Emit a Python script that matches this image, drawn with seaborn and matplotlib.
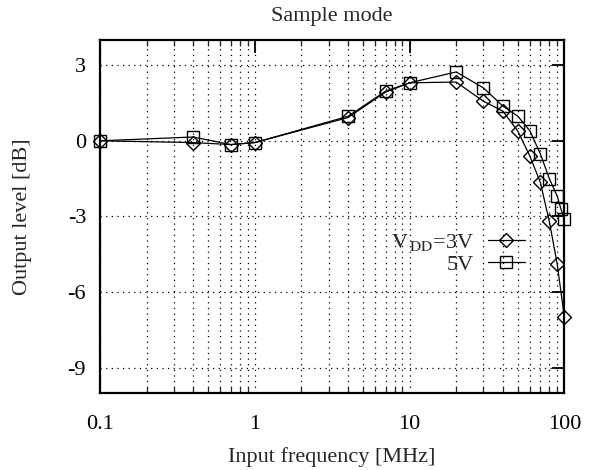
import numpy as np
import pandas as pd
import seaborn as sns
import matplotlib
matplotlib.use('Agg')
import matplotlib.pyplot as plt
from matplotlib import ticker

# values
freq_3v = [0.1, 0.4, 0.7, 1, 4, 7, 10, 20, 30, 40, 50, 60, 70, 80, 90, 100]
gain_3v = [0, -0.07, -0.15, -0.07, 0.92, 1.93, 2.3, 2.33, 1.57, 1.18, 0.39, -0.62, -1.65, -3.2, -4.9, -7.0]
freq_5v = [0.1, 0.4, 0.7, 1, 4, 7, 10, 20, 30, 40, 50, 60, 70, 80, 90, 95, 100]
gain_5v = [0, 0.15, -0.15, -0.07, 0.97, 1.97, 2.3, 2.73, 2.1, 1.38, 0.98, 0.39, -0.52, -1.5, -2.2, -2.7, -3.1]

x_ticks = [0.1, 1, 10, 100]
x_ticklabels = ['0.1', '1', '10', '100']
y_ticks = [3, 0, -3, -6, -9]

sns.set_style('white')
plt.rcParams['font.family'] = ['Liberation Serif', 'DejaVu Serif']
plt.rcParams['mathtext.fontset'] = 'stix'
plt.rcParams['axes.unicode_minus'] = False

fig = plt.figure(figsize=(5.9, 4.7), dpi=100)
ax = fig.add_axes([0.1695, 0.164, 0.787, 0.751])

df3 = pd.DataFrame({'freq': freq_3v, 'gain': gain_3v})
df5 = pd.DataFrame({'freq': freq_5v, 'gain': gain_5v})

sns.lineplot(data=df3, x='freq', y='gain', ax=ax, color='black', lw=0.9,
             marker='D', markersize=7.5, markerfacecolor='none',
             markeredgecolor='black', markeredgewidth=1.0, clip_on=False,
             label=r'$\mathrm{V}_{\,\mathrm{DD}}$=3V')
sns.lineplot(data=df5, x='freq', y='gain', ax=ax, color='black', lw=0.9,
             marker='s', markersize=8.5, markerfacecolor='none',
             markeredgecolor='black', markeredgewidth=1.0, clip_on=False,
             label='5V')

ax.set_xscale('log')
ax.set_xlim(0.1, 100)
ax.set_ylim(-10, 4)
ax.set_xticks(x_ticks)
ax.xaxis.set_major_formatter(ticker.FixedFormatter(x_ticklabels))
ax.xaxis.set_minor_locator(ticker.LogLocator(base=10, subs=np.arange(2, 10)))
ax.xaxis.set_minor_formatter(ticker.NullFormatter())
ax.set_yticks(y_ticks)

ax.grid(True, which='both', axis='x', color='black', lw=0.9, linestyle=(0, (1, 3.5)))
ax.grid(True, which='major', axis='y', color='black', lw=0.9, linestyle=(0, (1, 3.5)))

ax.tick_params(axis='both', which='major', direction='in', length=9, width=1.3,
               top=True, right=True, labelsize=16, colors='black')
ax.tick_params(axis='x', which='major', pad=16)
ax.tick_params(axis='y', which='major', pad=10)
ax.tick_params(axis='x', which='minor', direction='in', length=4, width=0.9,
               top=True, bottom=True)
for s in ax.spines.values():
    s.set_linewidth(1.6)
    s.set_color('black')

ax.set_xlabel('Input frequency [MHz]', fontsize=16, labelpad=9)
ax.set_ylabel('Output level [dB]', fontsize=16, labelpad=26)
ax.set_title('Sample mode', fontsize=16, pad=14)

leg = ax.legend(loc='center right', bbox_to_anchor=(0.94, 0.395), frameon=False,
                markerfirst=False, fontsize=16, handlelength=1.7,
                handletextpad=0.6, labelspacing=0.05, borderpad=0)

fig.savefig('out.png', dpi=100)
